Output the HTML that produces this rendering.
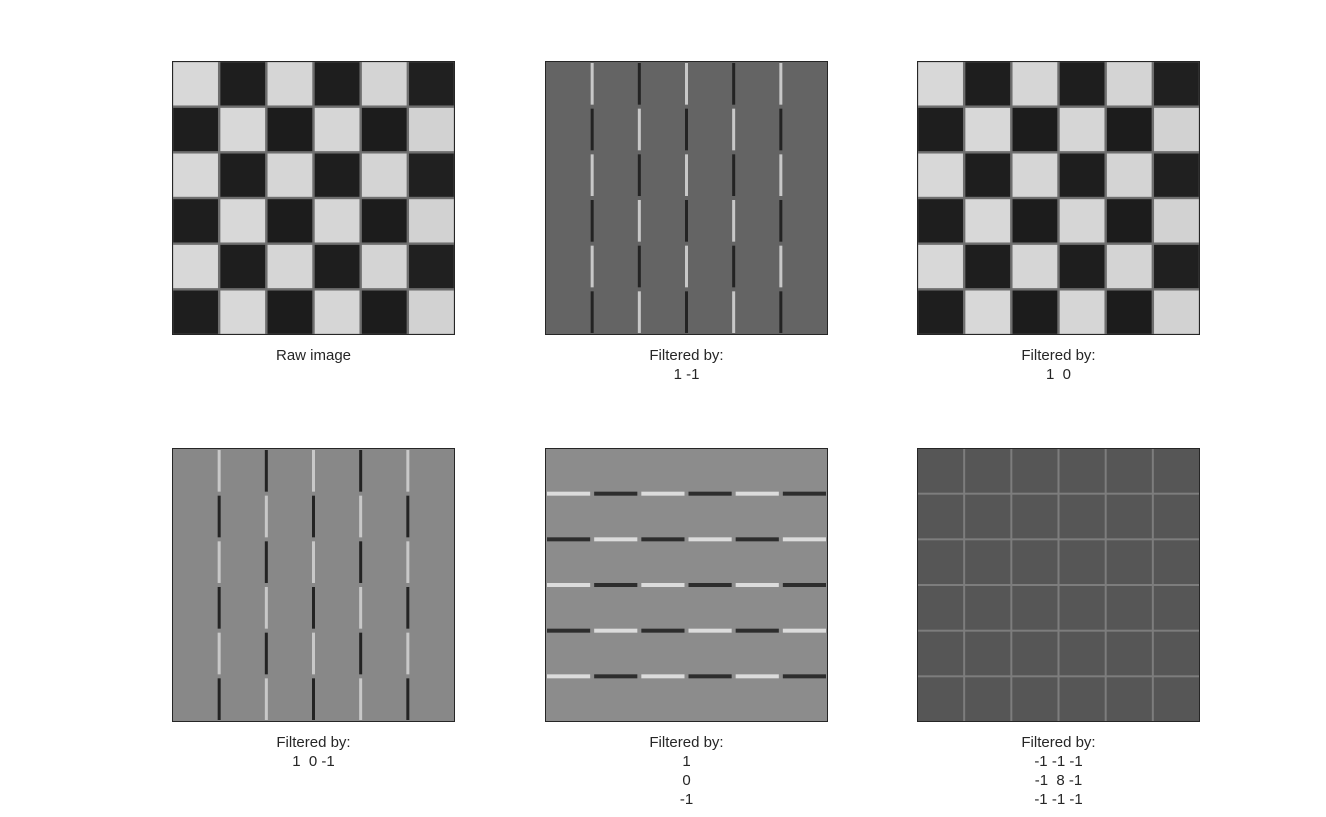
<!DOCTYPE html>
<html><head><meta charset="utf-8"><style>
body{margin:0;background:#fff;width:1326px;height:817px;overflow:hidden;font-family:"Liberation Sans",sans-serif}
svg{position:absolute;left:0;top:0}
text{white-space:pre}
</style></head><body>
<svg id="fig" width="1326" height="817"></svg>
<script>
const tilesPerSide = [6, 6];
const rawLight = [216, 216, 214, 214, 212, 210];
const rawDark = [30, 30, 28, 30, 28, 32];
const panelTitles = [["Raw image"],["Filtered by:","1 -1"],["Filtered by:","1  0"],["Filtered by:","1  0 -1"],["Filtered by:","1","0","-1"],["Filtered by:","-1 -1 -1","-1  8 -1","-1 -1 -1"]];
const panelKinds = ["raw","vert","raw","vert","horiz","lap"];
const panelBg = [null, 100, null, 136, 140, 86];

const NS="http://www.w3.org/2000/svg";
const svg=document.getElementById('fig');
const colX=[172,545,917], rowY=[61,448], PW=283, PH=274;
function mk(t,a,p){const e=document.createElementNS(NS,t);for(const k in a)e.setAttribute(k,a[k]);(p||svg).appendChild(e);return e;}
function g(v){return `rgb(${v},${v},${v})`;}
const N=tilesPerSide[0], M=tilesPerSide[1];
panelKinds.forEach((kind,i)=>{
  const x0=colX[i%3], y0=rowY[Math.floor(i/3)];
  const tw=PW/N, th=PH/M;
  const grp=mk('g',{});
  
  
  const light=(r,c)=>(r+c)%2===0;
  if(kind==="raw"){
    mk('rect',{x:x0,y:y0,width:PW,height:PH,fill:g(110)},grp);
    for(let r=0;r<M;r++)for(let c=0;c<N;c++){
      const v=light(r,c)?rawLight[c]:rawDark[c];
      mk('rect',{x:x0+c*tw+1.2,y:y0+r*th+1.2,width:tw-2.4,height:th-2.4,fill:g(v)},grp);
    }
  } else {
    mk('rect',{x:x0,y:y0,width:PW,height:PH,fill:g(panelBg[i])},grp);
    if(kind==="vert"){
      for(let c=1;c<N;c++)for(let r=0;r<M;r++){
        const br=light(r,c-1);
        mk('rect',{x:x0+c*tw-1.5,y:y0+r*th+2,width:3,height:th-4,fill:br?g(200):g(35)},grp);
      }
    } else if(kind==="horiz"){
      for(let r=1;r<M;r++)for(let c=0;c<N;c++){
        const br=light(r-1,c);
        mk('rect',{x:x0+c*tw+2,y:y0+r*th-2,width:tw-4,height:4,fill:br?g(220):g(45)},grp);
      }
    } else {
      for(let c=1;c<N;c++)mk('rect',{x:x0+c*tw-1,y:y0,width:2,height:PH,fill:g(125)},grp);
      for(let r=1;r<M;r++)mk('rect',{x:x0,y:y0+r*th-1,width:PW,height:2,fill:g(125)},grp);
    }
  }
  mk('rect',{x:x0+0.5,y:y0+0.5,width:PW-1,height:PH-1,fill:'none',stroke:'#262626','stroke-width':1},grp);
  panelTitles[i].forEach((t,k)=>{
    const tx=mk('text',{x:x0+PW/2,y:y0+PH+25+k*19,'text-anchor':'middle','font-size':15,fill:'#262626'},grp);
    tx.textContent=t;
    
    
  });
});
</script>
</body></html>
